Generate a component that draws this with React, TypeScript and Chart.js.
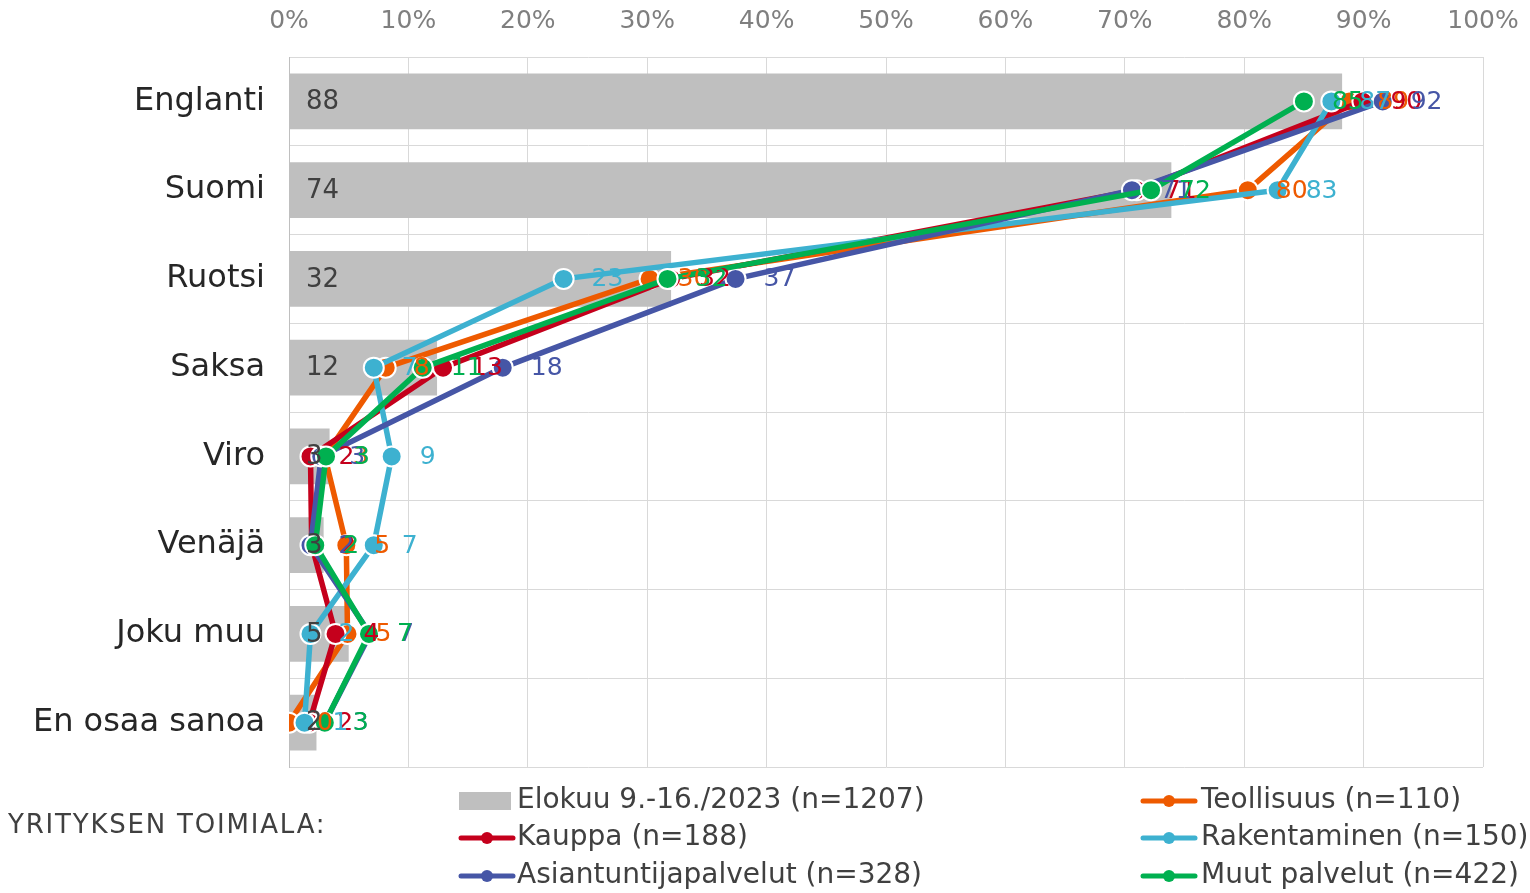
import React, { useEffect, useRef } from "react";
import { Chart, registerables } from "chart.js";

Chart.register(...registerables);

const categories = ["Englanti", "Suomi", "Ruotsi", "Saksa", "Viro", "Venäjä", "Joku muu", "En osaa sanoa"];
const totalValues = [88.2, 73.9, 32.0, 12.4, 3.4, 2.9, 5.0, 2.3];
const teollisuus = [88.8, 80.3, 30.2, 8.1, 3.0, 4.8, 4.9, 0.0];
const kauppa = [89.9, 71.0, 32.0, 12.9, 1.8, 1.9, 3.9, 1.7];
const rakentaminen = [87.3, 82.8, 23.0, 7.1, 8.6, 7.1, 1.8, 1.3];
const asiantuntija = [91.6, 70.6, 37.4, 17.9, 2.7, 1.8, 6.8, 3.0];
const muut = [85.0, 72.2, 31.7, 11.2, 3.1, 2.2, 6.7, 3.0];

const seriesLabels = [
  "Elokuu 9.-16./2023 (n=1207)",
  "Teollisuus (n=110)",
  "Kauppa (n=188)",
  "Rakentaminen (n=150)",
  "Asiantuntijapalvelut (n=328)",
  "Muut palvelut (n=422)",
];
const seriesColors = ["#BFBFBF", "#EE5A00", "#C5001C", "#3DB1D0", "#4656A6", "#00B050"];
const legendTitle = "YRITYKSEN TOIMIALA:";

const FONT = '"DejaVu Sans", Verdana, sans-serif';

const labelPlugin = {
  id: "valueLabels",
  afterDatasetsDraw(chart: any) {
    const ctx = chart.ctx;
    ctx.save();
    ctx.textBaseline = "middle";
    ctx.textAlign = "left";
    chart.data.datasets.forEach((ds: any, di: number) => {
      const meta = chart.getDatasetMeta(di);
      meta.data.forEach((el: any, i: number) => {
        const v = Math.round(ds.data[i]);
        if (di === 0) {
          ctx.font = `26px ${FONT}`;
          ctx.fillStyle = "#404040";
          ctx.fillText(String(v), chart.chartArea.left + 17, el.y + 1);
        } else {
          ctx.font = `25px ${FONT}`;
          ctx.fillStyle = seriesColors[di];
          ctx.fillText(String(v), el.x + 28, el.y + 1);
        }
      });
    });
    ctx.restore();
  },
};

const legendPlugin = {
  id: "customLegend",
  afterDraw(chart: any) {
    const ctx = chart.ctx;
    ctx.save();
    ctx.textBaseline = "middle";
    ctx.textAlign = "left";
    ctx.fillStyle = "#404040";
    ctx.font = `26px ${FONT}`;
    (ctx as any).letterSpacing = "1.8px";
    ctx.fillText(legendTitle, 8, 826);
    (ctx as any).letterSpacing = "0px";
    const cols = [
      { mx: 459, tx: 517, items: [0, 2, 4] },
      { mx: 1141, tx: 1201, items: [1, 3, 5] },
    ];
    const rows = [801, 838, 876];
    ctx.font = `28px ${FONT}`;
    cols.forEach((c) => {
      c.items.forEach((di, r) => {
        const y = rows[r];
        if (di === 0) {
          ctx.fillStyle = seriesColors[0];
          ctx.fillRect(c.mx, y - 9, 52, 18);
        } else {
          ctx.strokeStyle = seriesColors[di];
          ctx.lineWidth = 5;
          ctx.lineCap = "round";
          ctx.beginPath();
          ctx.moveTo(c.mx + 2, y);
          ctx.lineTo(c.mx + 54, y);
          ctx.stroke();
          ctx.beginPath();
          ctx.fillStyle = seriesColors[di];
          ctx.arc(c.mx + 28, y, 6, 0, Math.PI * 2);
          ctx.fill();
        }
        ctx.fillStyle = "#404040";
        ctx.fillText(seriesLabels[di], c.tx, y);
      });
    });
    ctx.restore();
  },
};

export default function App() {
  const ref = useRef<HTMLCanvasElement>(null);
  useEffect(() => {
    if (!ref.current) return;
    Chart.defaults.font.family = FONT;
    const lineSeries = [teollisuus, kauppa, rakentaminen, asiantuntija, muut];
    const chart = new Chart(ref.current, {
      type: "bar",
      data: {
        labels: categories,
        datasets: [
          {
            type: "bar",
            label: seriesLabels[0],
            data: totalValues,
            backgroundColor: seriesColors[0],
            barPercentage: 0.63,
            categoryPercentage: 1,
            order: 10,
          } as any,
          ...lineSeries.map((d, i) => ({
            type: "line",
            label: seriesLabels[i + 1],
            data: d,
            indexAxis: "y",
            borderColor: seriesColors[i + 1],
            backgroundColor: seriesColors[i + 1],
            borderWidth: 5.5,
            pointRadius: 10,
            pointHoverRadius: 10,
            pointBackgroundColor: seriesColors[i + 1],
            pointBorderColor: "#FFFFFF",
            pointBorderWidth: 2,
            fill: false,
            tension: 0,
            order: 5 - i,
          })),
        ],
      },
      options: {
        indexAxis: "y",
        animation: false,
        responsive: true,
        maintainAspectRatio: false,
        layout: { padding: { left: 0, right: 47, top: 0, bottom: 126 } },
        plugins: {
          legend: { display: false },
          tooltip: { enabled: false },
        },
        scales: {
          x: {
            position: "top",
            min: 0,
            max: 100,
            ticks: {
              stepSize: 10,
              callback: (v: any) => `${v}%`,
              color: "#7F7F7F",
              font: { size: 25 },
              padding: 21,
              maxRotation: 0,
            },
            grid: { color: "#D9D9D9", lineWidth: 1, drawTicks: false },
            border: { display: false },
            afterFit: (s: any) => {
              s.height = 57;
              s.paddingLeft = 0;
              s.paddingRight = 0;
            },
          },
          y: {
            offset: true,
            ticks: { color: "#262626", font: { size: 32 }, padding: 24 },
            grid: { color: "#D9D9D9", lineWidth: 1, drawTicks: false, offset: true },
            border: { display: true, color: "#BFBFBF" },
            afterFit: (s: any) => {
              s.width = 289;
              s.paddingTop = 0;
              s.paddingBottom = 0;
            },
          },
        },
      } as any,
      plugins: [labelPlugin, legendPlugin],
    });
    return () => chart.destroy();
  }, []);
  return (
    <div style={{ position: "fixed", left: 0, top: 0, width: 1530, height: 893, background: "#fff" }}>
      <canvas ref={ref} />
    </div>
  );
}
